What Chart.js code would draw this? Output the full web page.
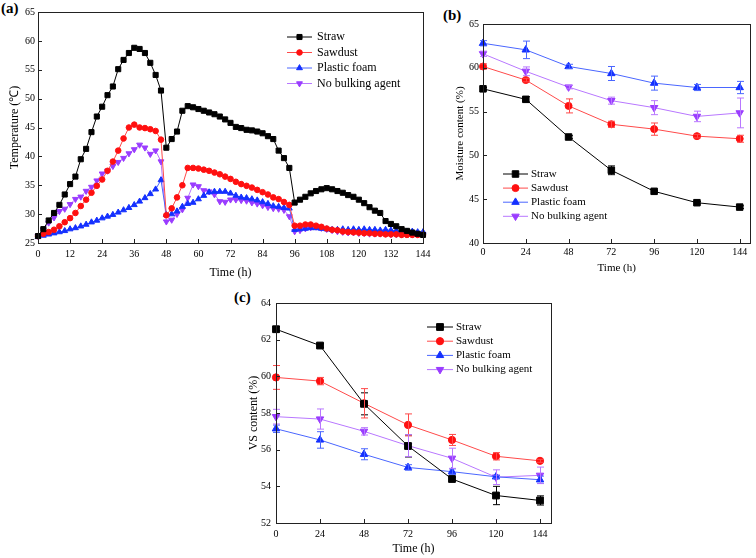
<!DOCTYPE html>
<html>
<head>
<meta charset="utf-8">
<script src="https://cdn.jsdelivr.net/npm/chart.js@4.4.0/dist/chart.umd.min.js"></script>
<style>
  body { margin: 0; background: #fff; width: 756px; height: 558px; position: relative; overflow: hidden; }
  canvas { position: absolute; }
  .panel-label { position: absolute; font: bold 15px 'Liberation Serif', serif; color: #000; }
</style>
</head>
<body>
<div class="panel-label" style="left:1px;top:0px">(a)</div>
<div class="panel-label" style="left:443px;top:7px">(b)</div>
<div class="panel-label" style="left:234px;top:289px">(c)</div>
<canvas id="tempChart" width="440" height="290" style="left:0;top:0"></canvas>
<canvas id="moistChart" width="306" height="290" style="left:450px;top:0"></canvas>
<canvas id="vsChart" width="330" height="273" style="left:240px;top:285px"></canvas>
<script>
// (a) temperature, every 2 h
var hoursA = [0, 2, 4, 6, 8, 10, 12, 14, 16, 18, 20, 22, 24, 26, 28, 30, 32, 34, 36, 38, 40, 42, 44, 46, 48,
  50, 52, 54, 56, 58, 60, 62, 64, 66, 68, 70, 72, 74, 76, 78, 80, 82, 84, 86, 88, 90, 92, 94, 96,
  98, 100, 102, 104, 106, 108, 110, 112, 114, 116, 118, 120, 122, 124, 126, 128, 130, 132, 134, 136, 138, 140, 142, 144];
var strawTemp = [26.2, 27.4, 28.9, 30.2, 31.6, 33.4, 35.2, 36.5, 39.5, 41.3, 44.2, 46.9, 48.6,
  50.6, 52.1, 55.1, 56.7, 57.9, 58.8, 58.6, 57.9, 56.2, 54.1, 51.4, 41.5,
  43.0, 44.3, 47.9, 48.7, 48.5, 48.2, 47.9, 47.6, 47.3, 46.9, 46.4, 45.8, 45.1, 44.9, 44.6, 44.5, 44.3, 44.0, 43.5, 43.0, 41.0, 39.7, 38.0, 32.0,
  32.5, 33.0, 33.6, 34.0, 34.3, 34.5, 34.3, 34.0, 33.7, 33.3, 33.0, 32.5, 31.9, 31.2, 30.6, 30.2, 28.8, 28.3, 27.9, 27.4, 27.1, 26.8, 26.6, 26.4];
var sawdustTemp = [26.2, 26.6, 26.9, 27.3, 27.9, 28.6, 29.3, 30.2, 31.4, 32.5, 33.7, 34.9, 36.0,
  37.5, 39.1, 41.0, 43.1, 45.0, 45.5, 45.0, 44.9, 44.7, 44.4, 42.9, 29.8,
  31.0, 32.9, 35.0, 38.0, 38.0, 37.9, 37.7, 37.5, 37.2, 36.9, 36.5, 36.1, 35.6, 35.2, 34.9, 34.6, 34.2, 33.8, 33.4, 32.9, 32.6, 32.1, 31.6, 28.0,
  28.0, 28.2, 28.2, 28.0, 27.8, 27.5, 27.3, 27.2, 27.0, 26.9, 26.85, 26.8, 26.7, 26.7, 26.6, 26.6, 26.5, 26.5, 26.5, 26.4, 26.4, 26.4, 26.4, 26.4];
var foamTemp = [26.1, 26.3, 26.5, 26.7, 26.9, 27.1, 27.4, 27.6, 27.9, 28.2, 28.6, 28.9, 29.3,
  29.6, 29.9, 30.3, 30.7, 31.1, 31.6, 32.2, 32.8, 33.5, 34.3, 35.9, 29.9,
  30.0, 30.5, 31.3, 31.8, 32.0, 32.6, 33.2, 33.8, 33.9, 33.9, 33.9, 33.6, 33.2, 32.9, 32.8, 32.6, 32.4, 32.1, 31.8, 31.4, 31.3, 31.1, 31.0, 27.3,
  27.4, 27.5, 27.6, 27.6, 27.5, 27.4, 27.3, 27.3, 27.4, 27.3, 27.4, 27.3, 27.4, 27.3, 27.3, 27.2, 27.3, 27.2, 27.1, 27.1, 27.0, 27.0, 26.9, 26.9];
var noAgentTemp = [26.2, 27.3, 28.5, 29.4, 30.5, 30.9, 31.7, 32.6, 33.0, 34.0, 34.7, 35.8, 37.0,
  37.5, 38.3, 39.0, 39.7, 40.5, 41.2, 42.0, 41.5, 40.4, 41.0, 39.1, 28.7,
  29.0, 30.0, 30.8, 32.8, 35.1, 34.8, 34.1, 33.9, 33.4, 32.2, 32.1, 32.5, 32.5, 32.4, 32.3, 32.0, 31.8, 31.5, 31.2, 31.0, 30.9, 30.7, 29.6, 27.0,
  27.2, 27.5, 27.7, 27.8, 27.6, 27.4, 27.2, 27.0, 26.9, 26.8, 26.8, 26.7, 26.7, 26.6, 26.6, 26.6, 26.6, 26.5, 26.5, 26.5, 26.5, 26.5, 26.5, 26.5];

// (b) moisture content and (c) VS content, every 24 h
var hoursB = [0, 24, 48, 72, 96, 120, 144];
var strawMoist = [57.6, 56.4, 52.1, 48.3, 45.9, 44.6, 44.1];
var strawMoistErr = [0.15, 0.3, 0.15, 0.5, 0.1, 0.15, 0.15];
var sawdustMoist = [60.15, 58.6, 55.65, 53.55, 53.0, 52.2, 51.9];
var sawdustMoistErr = [0.3, 0.2, 0.8, 0.35, 0.7, 0.2, 0.4];
var foamMoist = [62.8, 62.05, 60.15, 59.35, 58.25, 57.75, 57.75];
var foamMoistErr = [0.3, 1.0, 0.25, 0.8, 0.8, 0.35, 0.7];
var noAgentMoist = [61.6, 59.6, 57.8, 56.25, 55.45, 54.45, 54.85];
var noAgentMoistErr = [0.3, 0.5, 0.2, 0.4, 0.8, 0.6, 1.7];

var strawVS = [62.57, 61.68, 58.5, 56.2, 54.4, 53.5, 53.23];
var strawVSErr = [0.15, 0.1, 0.6, 0.6, 0.1, 0.5, 0.25];
var sawdustVS = [59.94, 59.74, 58.53, 57.35, 56.53, 55.64, 55.39];
var sawdustVSErr = [0.65, 0.2, 0.8, 0.6, 0.3, 0.2, 0.08];
var foamVS = [57.14, 56.53, 55.75, 55.03, 54.8, 54.52, 54.36];
var foamVSErr = [0.2, 0.45, 0.3, 0.15, 0.15, 0.08, 0.2];
var noAgentVS = [57.8, 57.67, 57.0, 56.22, 55.53, 54.5, 54.6];
var noAgentVSErr = [0.4, 0.55, 0.2, 0.6, 0.55, 0.4, 0.45];

var serif = "'Liberation Serif', 'Times New Roman', serif";

function series(label, xs, ys, errs, pointColor, lineColor, style, radius, rotation) {
  return {
    label: label,
    data: xs.map(function (x, i) { return {x: x, y: ys[i]}; }),
    errors: errs,
    borderColor: lineColor,
    backgroundColor: pointColor,
    pointBackgroundColor: pointColor,
    pointBorderColor: pointColor,
    pointStyle: style,
    pointRadius: radius,
    pointRotation: rotation || 0,
    pointBorderWidth: 1,
    borderWidth: 1,
    tension: 0,
    clip: false
  };
}

// frame, inward ticks, error bars and legend
var framePlugin = {
  id: 'frame',
  afterDatasetsDraw: function (chart) {
    var ctx = chart.ctx;
    chart.data.datasets.forEach(function (ds, i) {
      if (!ds.errors) return;
      var meta = chart.getDatasetMeta(i);
      ctx.save();
      ctx.strokeStyle = ds.borderColor;
      ctx.lineWidth = 1;
      meta.data.forEach(function (pt, j) {
        var v = ds.data[j].y, e = ds.errors[j];
        var yTop = chart.scales.y.getPixelForValue(v + e);
        var yBot = chart.scales.y.getPixelForValue(v - e);
        var x = Math.round(pt.x) + 0.5;
        ctx.beginPath();
        ctx.moveTo(x, yTop); ctx.lineTo(x, yBot);
        ctx.moveTo(x - 3.5, yTop); ctx.lineTo(x + 3.5, yTop);
        ctx.moveTo(x - 3.5, yBot); ctx.lineTo(x + 3.5, yBot);
        ctx.stroke();
      });
      ctx.restore();
    });
  },
  afterDraw: function (chart, args, opts) {
    var ctx = chart.ctx, a = chart.chartArea;
    ctx.save();
    ctx.strokeStyle = '#222';
    ctx.lineWidth = 1;
    ctx.strokeRect(Math.round(a.left) + 0.5, Math.round(a.top) + 0.5, Math.round(a.right - a.left), Math.round(a.bottom - a.top));
    var tl = opts.tickLen || 4;
    ctx.beginPath();
    chart.scales.x.ticks.forEach(function (t) {
      var x = Math.round(chart.scales.x.getPixelForValue(t.value)) + 0.5;
      ctx.moveTo(x, a.bottom); ctx.lineTo(x, a.bottom - tl);
    });
    chart.scales.y.ticks.forEach(function (t) {
      var y = Math.round(chart.scales.y.getPixelForValue(t.value)) + 0.5;
      ctx.moveTo(a.left, y); ctx.lineTo(a.left + tl, y);
    });
    ctx.stroke();

    // legend
    var lg = opts.legend;
    ctx.font = lg.font;
    ctx.textBaseline = 'middle';
    chart.data.datasets.forEach(function (ds, i) {
      var y = lg.y + i * lg.row;
      ctx.strokeStyle = ds.borderColor;
      ctx.lineWidth = 1;
      ctx.beginPath();
      ctx.moveTo(lg.x, y); ctx.lineTo(lg.x + lg.len, y);
      ctx.stroke();
      ctx.fillStyle = ds.pointBackgroundColor;
      ctx.strokeStyle = ds.pointBorderColor;
      Chart.helpers.drawPoint(ctx, {pointStyle: ds.pointStyle, rotation: ds.pointRotation, radius: ds.pointRadius, borderWidth: 1}, lg.x + lg.len / 2, y);
      ctx.fillStyle = '#000';
      ctx.fillText(ds.label, lg.x + lg.len + lg.gap, y);
    });
    ctx.restore();
  }
};

function axes(cfg) {
  return {
    x: {
      type: 'linear', min: cfg.xMin, max: cfg.xMax,
      grid: {display: false, drawTicks: false}, border: {display: false},
      ticks: {stepSize: cfg.xStep, includeBounds: false, padding: cfg.xPad, color: '#000', font: {family: serif, size: cfg.tickSize}, maxRotation: 0},
      title: {display: true, text: 'Time (h)', color: '#000', font: {family: serif, size: cfg.titleSize}, padding: {top: 0, bottom: cfg.xTitlePad}},
      afterFit: function (s) { s.height = cfg.xHeight; }
    },
    y: {
      min: cfg.yMin, max: cfg.yMax,
      grid: {display: false, drawTicks: false}, border: {display: false},
      ticks: {stepSize: cfg.yStep, padding: cfg.yPad, color: '#000', font: {family: serif, size: cfg.tickSize}},
      title: {display: true, text: cfg.yTitle, color: '#000', font: {family: serif, size: cfg.titleSize}, padding: {top: cfg.yTitlePad, bottom: 0}},
      afterFit: function (s) { s.width = cfg.yWidth; }
    }
  };
}

var black = '#000000';
var red = '#ff1010', redLine = '#ff4a4a';
var blue = '#1430ff', blueLine = '#4a66ff';
var purple = '#9a3cff', purpleLine = '#b877ff';

// temperature chart
new Chart(document.getElementById('tempChart'), {
  type: 'line',
  data: {
    datasets: [
      series('Straw', hoursA, strawTemp, null, black, black, 'rect', 3.6),
      series('Sawdust', hoursA, sawdustTemp, null, red, redLine, 'circle', 2.8),
      series('Plastic foam', hoursA, foamTemp, null, blue, blueLine, 'triangle', 3.4),
      series('No bulking agent', hoursA, noAgentTemp, null, purple, purpleLine, 'triangle', 3.4, 180)
    ]
  },
  options: {
    responsive: false, animation: false, devicePixelRatio: 1,
    layout: {padding: {top: 12, right: 17, bottom: 0, left: 0}},
    scales: axes({xMin: 0, xMax: 144, xStep: 12, yMin: 25, yMax: 65, yStep: 5, tickSize: 10, titleSize: 12,
      xPad: 5, xTitlePad: 10, xHeight: 47, yPad: 3, yTitlePad: 8, yWidth: 38, yTitle: 'Temperature (℃)'}),
    plugins: {
      legend: {display: false}, tooltip: {enabled: false},
      frame: {tickLen: 4, legend: {x: 287, y: 37, row: 15.5, len: 25, gap: 5, font: '12px ' + serif}}
    }
  },
  plugins: [framePlugin]
});

// moisture chart
new Chart(document.getElementById('moistChart'), {
  type: 'line',
  data: {
    datasets: [
      series('Straw', hoursB, strawMoist, strawMoistErr, black, black, 'rect', 4.6),
      series('Sawdust', hoursB, sawdustMoist, sawdustMoistErr, red, redLine, 'circle', 3.5),
      series('Plastic foam', hoursB, foamMoist, foamMoistErr, blue, blueLine, 'triangle', 4.3),
      series('No bulking agent', hoursB, noAgentMoist, noAgentMoistErr, purple, purpleLine, 'triangle', 4.3, 180)
    ]
  },
  options: {
    responsive: false, animation: false, devicePixelRatio: 1,
    layout: {padding: {top: 24, right: 2, bottom: 0, left: 0}},
    scales: axes({xMin: 0, xMax: 150, xStep: 24, yMin: 40, yMax: 65, yStep: 5, tickSize: 10, titleSize: 11,
      xPad: 3, xTitlePad: 15, xHeight: 47, yPad: 4, yTitlePad: 4, yWidth: 33, yTitle: 'Moisture content (%)'}),
    plugins: {
      legend: {display: false}, tooltip: {enabled: false},
      frame: {tickLen: 4, legend: {x: 53, y: 174, row: 14.1, len: 25, gap: 3, font: '11px ' + serif}}
    }
  },
  plugins: [framePlugin]
});

// VS chart
new Chart(document.getElementById('vsChart'), {
  type: 'line',
  data: {
    datasets: [
      series('Straw', hoursB, strawVS, strawVSErr, black, black, 'rect', 4.8),
      series('Sawdust', hoursB, sawdustVS, sawdustVSErr, red, redLine, 'circle', 3.6),
      series('Plastic foam', hoursB, foamVS, foamVSErr, blue, blueLine, 'triangle', 4.3),
      series('No bulking agent', hoursB, noAgentVS, noAgentVSErr, purple, purpleLine, 'triangle', 4.3, 180)
    ]
  },
  options: {
    responsive: false, animation: false, devicePixelRatio: 1,
    layout: {padding: {top: 18, right: 19, bottom: 0, left: 0}},
    scales: axes({xMin: 0, xMax: 150, xStep: 24, yMin: 52, yMax: 64, yStep: 2, tickSize: 10, titleSize: 12,
      xPad: 5, xTitlePad: 2, xHeight: 35, yPad: 5, yTitlePad: 7, yWidth: 36, yTitle: 'VS content (%)'}),
    plugins: {
      legend: {display: false}, tooltip: {enabled: false},
      frame: {tickLen: 4, legend: {x: 187, y: 42, row: 14.2, len: 26, gap: 3, font: '11px ' + serif}}
    }
  },
  plugins: [framePlugin]
});
</script>
</body>
</html>
